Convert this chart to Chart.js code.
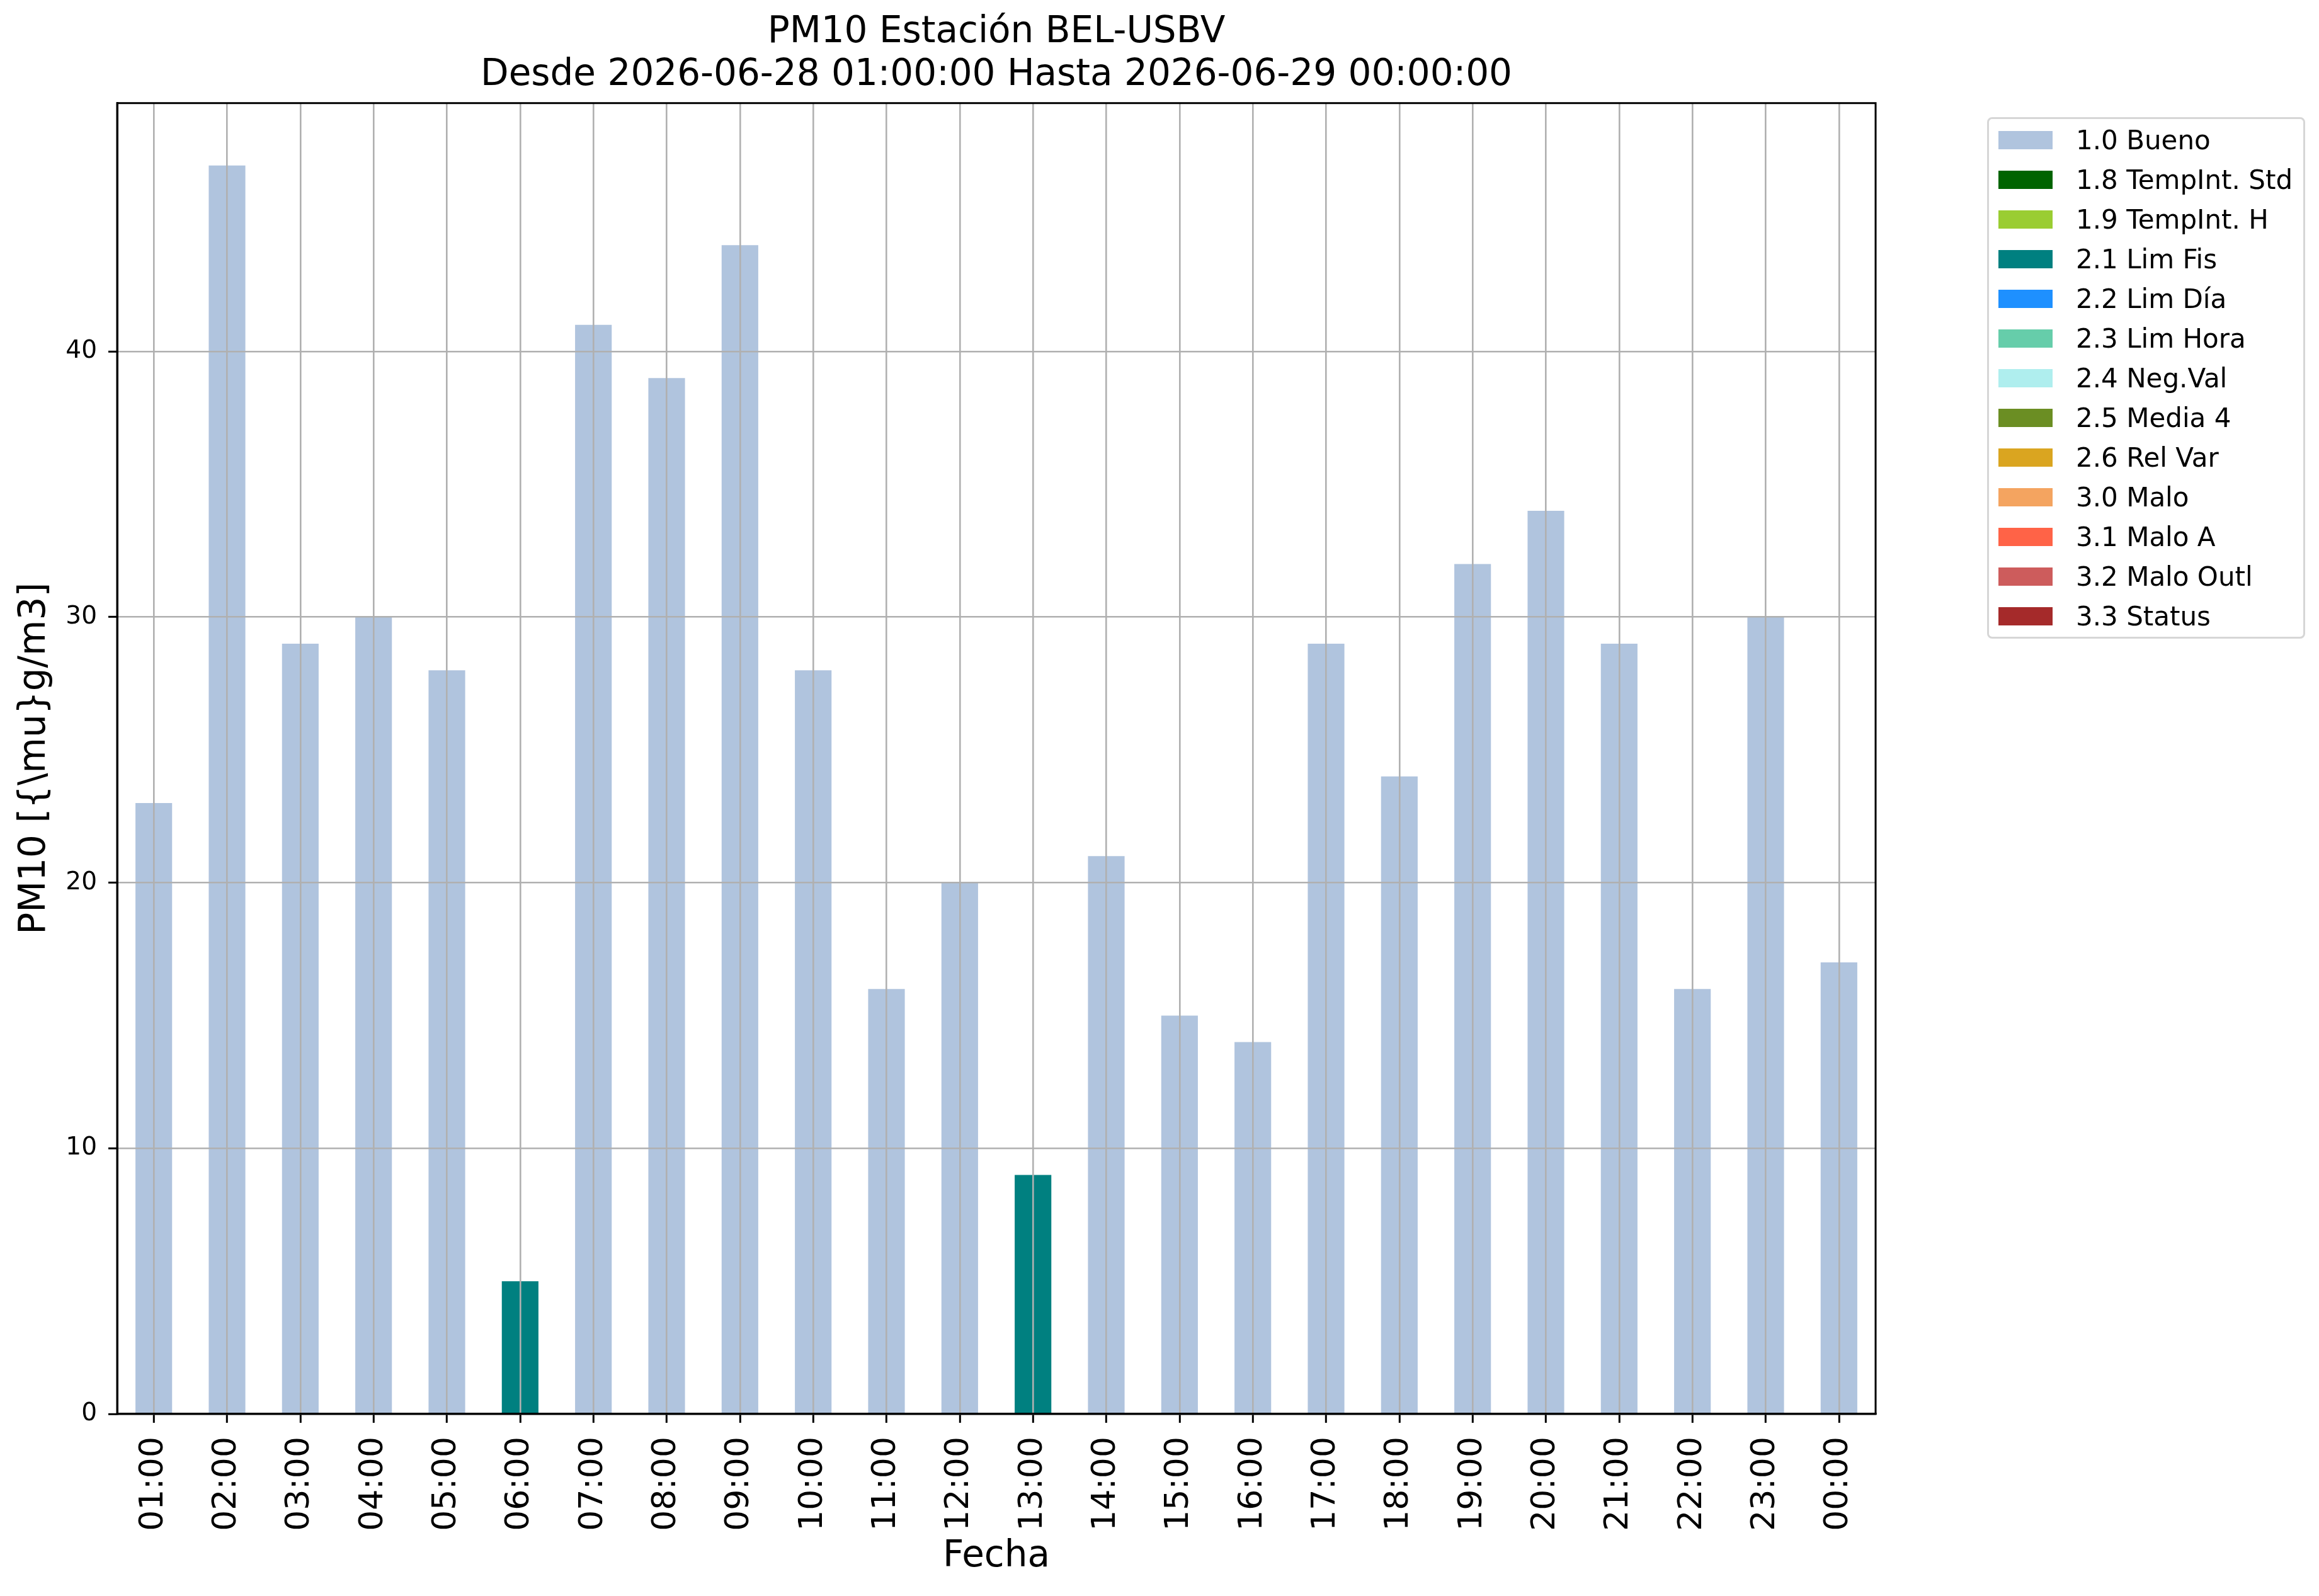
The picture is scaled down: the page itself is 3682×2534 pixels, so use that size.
<!DOCTYPE html>
<html>
<head>
<meta charset="utf-8">
<script src="https://cdn.jsdelivr.net/npm/chart.js@4/dist/chart.umd.min.js"></script>
<style>
  body { margin: 0; background: #fff; }
  #wrap { position: relative; width: 3682px; height: 2534px; }
  #legend {
    position: absolute; left: 3155px; top: 186px; width: 505px; height: 828px;
    box-sizing: border-box; border: 3px solid #d6d6d6; border-radius: 8px;
    background: rgba(255,255,255,0.8); padding-top: 2px;
    font-family: 'DejaVu Sans', sans-serif; font-size: 42px; color: #000;
  }
  .item { display: flex; align-items: center; height: 63px; }
  .patch { width: 86px; height: 29px; margin-left: 15px; margin-right: 37px; }
  .item span { line-height: 1; white-space: nowrap; }
</style>
</head>
<body>
<div id="wrap">
  <canvas id="chart" width="3682" height="2534"></canvas>
  <div id="legend"></div>
</div>
<script>
var horas = ['01:00','02:00','03:00','04:00','05:00','06:00','07:00','08:00','09:00','10:00','11:00','12:00',
             '13:00','14:00','15:00','16:00','17:00','18:00','19:00','20:00','21:00','22:00','23:00','00:00'];

var bueno  = [23, 47, 29, 30, 28, 0, 41, 39, 44, 28, 16, 20, 0, 21, 15, 14, 29, 24, 32, 34, 29, 16, 30, 17];
var limFis = [0, 0, 0, 0, 0, 5, 0, 0, 0, 0, 0, 0, 9, 0, 0, 0, 0, 0, 0, 0, 0, 0, 0, 0];

var etiquetas = ['1.0 Bueno','1.8 TempInt. Std','1.9 TempInt. H','2.1 Lim Fis','2.2 Lim Día','2.3 Lim Hora',
                 '2.4 Neg.Val','2.5 Media 4','2.6 Rel Var','3.0 Malo','3.1 Malo A','3.2 Malo Outl','3.3 Status'];
var colores = ['#b0c4de','#006400','#9acd32','#008080','#1e90ff','#66cdaa',
               '#afeeee','#6b8e23','#daa520','#f4a460','#ff6347','#cd5c5c','#a52a2a'];
// only these two flags have values in this period, the rest stay empty
var valores = [bueno, [], [], limFis, [], [], [], [], [], [], [], [], []];

var FONT = 'DejaVu Sans';

var datasets = etiquetas.map(function(lbl, i){
  return {
    label: lbl,
    data: valores[i],
    backgroundColor: colores[i],
    borderWidth: 0,
    barPercentage: 0.5,
    categoryPercentage: 1.0
  };
});

var totales = horas.map(function(h, i){ return bueno[i] + limFis[i]; });
var ymax = Math.max.apply(null, totales) * 1.05;

var frame = {
  id: 'frame',
  afterDraw: function(chart){
    var a = chart.chartArea, ctx = chart.ctx;
    ctx.save();
    ctx.strokeStyle = '#000';
    ctx.lineWidth = 3;
    ctx.strokeRect(a.left, a.top, a.right - a.left, a.bottom - a.top);
    ctx.restore();
  }
};

var ctx = document.getElementById('chart').getContext('2d');
var myChart = new Chart(ctx, {
  type: 'bar',
  data: { labels: horas, datasets: datasets },
  plugins: [frame],
  options: {
    responsive: false,
    devicePixelRatio: 1,
    animation: false,
    layout: { padding: { left: 0, right: 704, top: 0, bottom: 0 } },
    plugins: {
      legend: { display: false },
      tooltip: { enabled: false },
      title: {
        display: true,
        fullSize: false,
        text: ['PM10 Estación BEL-USBV', 'Desde 2026-06-28 01:00:00 Hasta 2026-06-29 00:00:00'],
        color: '#000',
        font: { family: FONT, size: 58, weight: 'normal', lineHeight: 1.17 },
        padding: { top: 18, bottom: 10 }
      }
    },
    scales: {
      x: {
        stacked: true,
        offset: true,
        afterFit: function(s){ s.height = 289; },
        grid: { offset: false, color: '#b0b0b0', lineWidth: 2.6, z: 1,
                tickColor: '#000', tickWidth: 3, tickLength: 14 },
        border: { color: '#000', width: 3, z: 2 },
        ticks: { color: '#000', font: { family: FONT, size: 52 }, minRotation: 90, maxRotation: 90,
                 autoSkip: false, padding: 22 },
        title: { display: true, text: 'Fecha', color: '#000',
                 font: { family: FONT, size: 58 }, padding: { top: 0, bottom: 27 } }
      },
      y: {
        stacked: true,
        min: 0,
        max: ymax,
        afterFit: function(s){ s.width = 186; },
        afterBuildTicks: function(s){ s.ticks = s.ticks.filter(function(t){ return t.value % 10 === 0; }); },
        grid: { color: '#b0b0b0', lineWidth: 2.6, z: 1,
                tickColor: '#000', tickWidth: 3, tickLength: 14 },
        border: { color: '#000', width: 3, z: 2 },
        ticks: { color: '#000', font: { family: FONT, size: 39 }, stepSize: 10, includeBounds: false, padding: 18 },
        title: { display: true, text: 'PM10 [{\\mu}g/m3]', color: '#000',
                 font: { family: FONT, size: 58 }, padding: { top: 21, bottom: 0 } }
      }
    }
  }
});

var leg = document.getElementById('legend');
myChart.data.datasets.forEach(function(ds){
  var row = document.createElement('div');
  row.className = 'item';
  var p = document.createElement('div');
  p.className = 'patch';
  p.style.background = ds.backgroundColor;
  var t = document.createElement('span');
  t.textContent = ds.label;
  row.appendChild(p);
  row.appendChild(t);
  leg.appendChild(row);
});
</script>
</body>
</html>
